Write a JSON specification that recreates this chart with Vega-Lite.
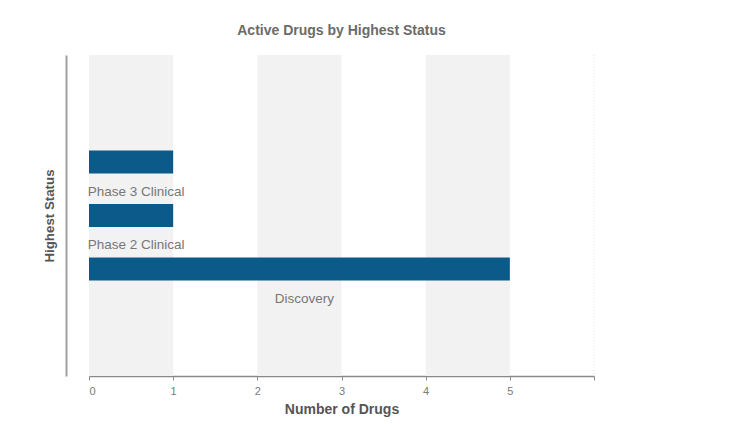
{
  "$schema": "https://vega.github.io/schema/vega-lite/v6.json",
  "autosize": "none",
  "width": 505,
  "height": 321,
  "padding": {"left": 89, "top": 55, "right": 143, "bottom": 48},
  "background": "white",
  "config": {
    "view": {"stroke": null},
    "font": "Liberation Sans"
  },
  "title": {
    "text": "Active Drugs by Highest Status",
    "fontSize": 14,
    "fontWeight": "bold",
    "color": "#6b6b6b",
    "anchor": "middle",
    "offset": 17
  },
  "datasets": {
    "drugs": [
      {"status": "Phase 3 Clinical", "count": 1},
      {"status": "Phase 2 Clinical", "count": 1},
      {"status": "Discovery", "count": 5}
    ],
    "stripes": [
      {"from": 0, "to": 1},
      {"from": 2, "to": 3},
      {"from": 4, "to": 5}
    ]
  },
  "layer": [
    {
      "data": {"name": "stripes"},
      "mark": {"type": "rect", "color": "#f2f2f2"},
      "encoding": {
        "x": {"field": "from", "type": "quantitative", "scale": {"domain": [0, 6], "nice": false}},
        "x2": {"field": "to"}
      }
    },
    {
      "data": {"values": [{"edge": 6}]},
      "mark": {"type": "rule", "color": "#e2e2e2", "strokeDash": [1, 2]},
      "encoding": {"x": {"field": "edge", "type": "quantitative"}}
    },
    {
      "data": {"name": "drugs"},
      "mark": {"type": "bar", "color": "#0b5a8a", "height": 23},
      "encoding": {
        "y": {
          "field": "status",
          "type": "nominal",
          "sort": null,
          "scale": {
            "domain": ["", "Phase 3 Clinical", "Phase 2 Clinical", "Discovery", " "],
            "paddingInner": 0,
            "paddingOuter": 0.5
          },
          "axis": {
            "title": "Highest Status",
            "labels": false,
            "ticks": false,
            "grid": false,
            "offset": 23,
            "domainColor": "#a0a0a0",
            "domainWidth": 2,
            "titleFontSize": 13.3,
            "titleFontWeight": "bold",
            "titleColor": "#555555",
            "titlePadding": 10
          }
        },
        "x": {
          "field": "count",
          "type": "quantitative",
          "axis": {
            "title": "Number of Drugs",
            "values": [0, 1, 2, 3, 4, 5, 6],
            "format": "d",
            "labelExpr": "datum.value == 6 ? '' : datum.label",
            "grid": false,
            "domainColor": "#8a8a8a",
            "domainWidth": 1.5,
            "tickColor": "#8a8a8a",
            "tickSize": 4,
            "labelColor": "#7a7a7a",
            "labelFontSize": 11,
            "labelPadding": 5,
            "titleFontSize": 14,
            "titleFontWeight": "bold",
            "titleColor": "#555555",
            "titlePadding": 6
          }
        }
      }
    },
    {
      "data": {"name": "drugs"},
      "mark": {"type": "text", "color": "#777777", "fontSize": 13.5, "baseline": "middle", "dy": 29.5, "dx": 5},
      "encoding": {
        "y": {"field": "status", "type": "nominal", "sort": null},
        "x": {"field": "count", "type": "quantitative", "stack": "zero", "bandPosition": 0.5},
        "text": {"field": "status"}
      }
    }
  ]
}
